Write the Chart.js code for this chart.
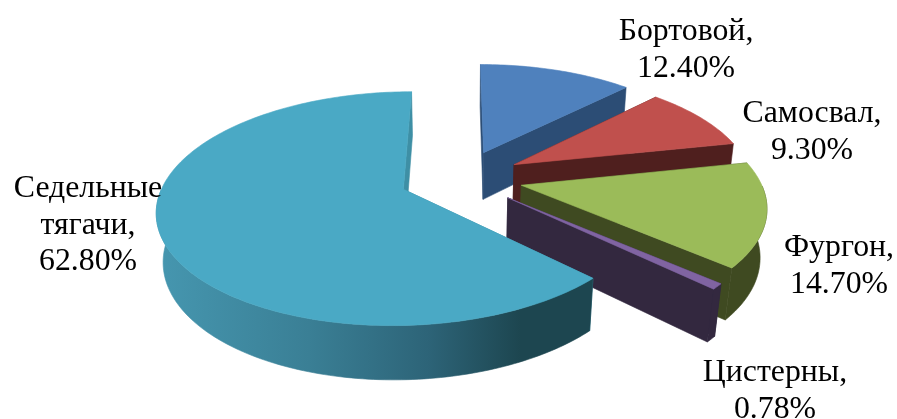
<!DOCTYPE html>
<html lang="ru">
<head>
<meta charset="utf-8">
<title>Структура парка</title>
<script src="https://cdn.jsdelivr.net/npm/chart.js@4"></script>
<style>
  html, body { margin: 0; padding: 0; background: #fff; }
  canvas { display: block; }
</style>
</head>
<body>
<canvas id="pie" width="897" height="419"></canvas>
<script>
// Series
const categories = ['Бортовой', 'Самосвал', 'Фургон', 'Цистерны', 'Седельные тягачи'];
const shares = [12.4, 9.3, 14.7, 0.78, 62.8];

// Slice colours: upper surface and side wall
const topColors = ['#4f81bd', '#c0504d', '#9bbb59', '#8064a2', '#4aa9c5'];
const wallColors = ['#2c4d75', '#4f1f1e', '#3f4a21', '#33283f', '#1d4650'];
const faceColors = ['#2c4d75', '#4f1f1e', '#3f4a21', '#33283f', '#3e8fa5'];

// Data label lines and anchors
const labelLines = [['Бортовой,'], ['Самосвал,'], ['Фургон,'], ['Цистерны,'], ['Седельные', 'тягачи,']];
const labelAnchors = [[686, 40], [812, 122], [839, 256], [775, 381], [88, 197]];
const labelFont = '31.8px "Liberation Serif"';
const labelLeading = 36.5;

// Perspective camera for the tilted pie
const EXPLODE_PX = 48;
const camera = { cx: 461, cy: 178, k: 238, lift: 110, falloff: 0.1626, sink: 0.022, depth: 49 };

function project(x, y, z) {
  const d = 1 + camera.falloff * y + camera.sink * z;
  return [camera.cx + camera.k * x / d, camera.cy + (z * camera.depth - camera.lift * y) / d];
}

function rimPoints(arc, z) {
  const mid = (arc.startAngle + arc.endAngle) / 2;
  const off = arc.options.offset / arc.outerRadius;
  const ox = Math.cos(mid) * off, oy = -Math.sin(mid) * off;
  const steps = Math.max(2, Math.ceil((arc.endAngle - arc.startAngle) / 0.02));
  const pts = [], front = [];
  for (let i = 0; i <= steps; i++) {
    const a = arc.startAngle + (arc.endAngle - arc.startAngle) * i / steps;
    const p = project(ox + Math.cos(a), oy - Math.sin(a), z);
    pts.push(p);
    if (Math.sin(a) >= 0) front.push(p);
  }
  return { pts, front, apex: project(ox, oy, z) };
}

function fillPoly(ctx, pts, fill) {
  ctx.beginPath();
  pts.forEach((p, i) => (i ? ctx.lineTo(p[0], p[1]) : ctx.moveTo(p[0], p[1])));
  ctx.closePath();
  ctx.fillStyle = fill;
  ctx.strokeStyle = fill;
  ctx.lineWidth = 0.6;
  ctx.fill();
  ctx.stroke();
}

// Paints each arc as an extruded wedge from the geometry the controller computed
const pie3d = {
  id: 'pie3d',
  beforeDatasetDraw(chart, args) {
    const ctx = chart.ctx;
    const arcs = chart.getDatasetMeta(args.index).data;
    const sideShade = ctx.createLinearGradient(155, 0, 595, 0);
    sideShade.addColorStop(0, '#4697b0');
    sideShade.addColorStop(0.35, '#3a7f95');
    sideShade.addColorStop(0.62, '#2d6478');
    sideShade.addColorStop(0.83, '#1d4650');
    sideShade.addColorStop(1, '#1d4650');

    arcs.forEach((arc, i) => {
      const upper = rimPoints(arc, 0);
      const lower = rimPoints(arc, 1);
      const last = upper.pts.length - 1;
      const face = faceColors[i];
      fillPoly(ctx, [upper.apex, upper.pts[0], lower.pts[0], lower.apex], face);
      fillPoly(ctx, [upper.apex, upper.pts[last], lower.pts[last], lower.apex], face);
      if (upper.front.length > 1) {
        const wall = i === arcs.length - 1 ? sideShade : wallColors[i];
        fillPoly(ctx, upper.front.concat(lower.front.slice().reverse()), wall);
      }
      fillPoly(ctx, [upper.apex].concat(upper.pts), topColors[i]);
    });
    return false;
  },
  afterDatasetsDraw(chart) {
    const ctx = chart.ctx;
    ctx.save();
    ctx.font = labelFont;
    ctx.fillStyle = '#000';
    ctx.textAlign = 'center';
    ctx.textBaseline = 'alphabetic';
    shares.forEach((share, i) => {
      const lines = labelLines[i].concat(share.toFixed(2) + '%');
      lines.forEach((line, n) => {
        ctx.fillText(line, labelAnchors[i][0], labelAnchors[i][1] + n * labelLeading);
      });
    });
    ctx.restore();
  }
};

new Chart(document.getElementById('pie'), {
  type: 'pie',
  data: {
    labels: categories,
    datasets: [{
      data: shares,
      backgroundColor: topColors,
      borderWidth: 0,
      offset: EXPLODE_PX,
      hoverOffset: 0
    }]
  },
  options: {
    responsive: false,
    animation: false,
    rotation: 0,
    events: [],
    plugins: { legend: { display: false }, tooltip: { enabled: false } }
  },
  plugins: [pie3d]
});
</script>
</body>
</html>
